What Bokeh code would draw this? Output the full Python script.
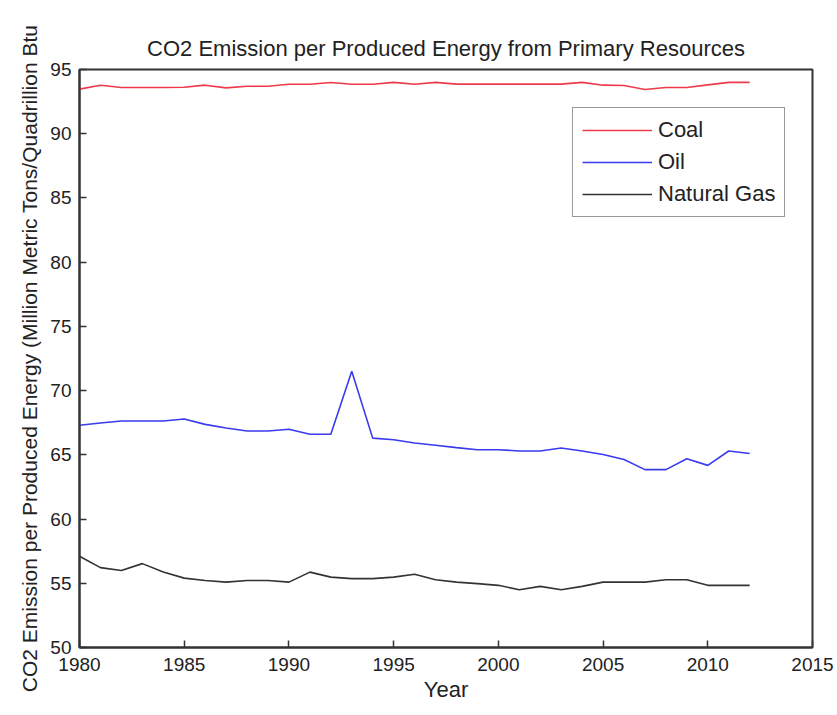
from bokeh.plotting import figure
from bokeh.models import Range1d, FixedTicker, Legend, LegendItem
from bokeh.embed import file_html
from bokeh.resources import INLINE

# CO2 emitted per unit of produced energy (million metric tons per quadrillion Btu)
years = list(range(1980, 2013))
coal = [93.47, 93.78, 93.60, 93.60, 93.60, 93.62, 93.78, 93.57, 93.70, 93.70,
        93.85, 93.85, 93.99, 93.85, 93.85, 94.00, 93.85, 94.00, 93.86, 93.86,
        93.86, 93.86, 93.86, 93.86, 94.00, 93.78, 93.75, 93.44, 93.60, 93.60,
        93.80, 94.00, 94.00]
oil = [67.30, 67.48, 67.63, 67.63, 67.63, 67.79, 67.37, 67.09, 66.86, 66.86,
       66.99, 66.60, 66.60, 71.50, 66.30, 66.18, 65.92, 65.74, 65.56, 65.40,
       65.40, 65.30, 65.30, 65.53, 65.30, 65.02, 64.63, 63.85, 63.85, 64.70,
       64.18, 65.30, 65.10]
natural_gas = [57.10, 56.22, 56.00, 56.53, 55.87, 55.40, 55.22, 55.09, 55.22, 55.22,
               55.09, 55.87, 55.48, 55.36, 55.36, 55.48, 55.70, 55.28, 55.09, 54.97,
               54.84, 54.50, 54.76, 54.50, 54.76, 55.09, 55.09, 55.09, 55.28, 55.28,
               54.84, 54.84, 54.84]

series_names = ["Coal", "Oil", "Natural Gas"]
series_colors = ["#ee3a4a", "#3a3aee", "#333333"]

x_ticks = [1980, 1985, 1990, 1995, 2000, 2005, 2010, 2015]
y_ticks = [50, 55, 60, 65, 70, 75, 80, 85, 90, 95]

FONT = "Liberation Sans"
TICK_FS = "19px"
TEXT_FS = "22px"

p = figure(width=837, height=715, output_backend="svg", toolbar_location=None,
           x_range=Range1d(1980, 2015), y_range=Range1d(50, 95),
           min_border_left=79, min_border_right=25, min_border_top=69,
           min_border_bottom=68,
           title="CO2 Emission per Produced Energy from Primary Resources")

p.title.align = "center"
p.title.text_font = FONT
p.title.text_font_size = TEXT_FS
p.title.text_font_style = "normal"
p.title.text_color = "#222222"
p.title.standoff = 18

p.xgrid.visible = False
p.ygrid.visible = False
p.outline_line_color = "#333333"
p.outline_line_width = 2
p.background_fill_color = "white"
p.border_fill_color = "white"

for ax in (p.xaxis[0], p.yaxis[0]):
    ax.axis_line_color = "#333333"
    ax.axis_line_width = 2
    ax.major_tick_in = 7
    ax.major_tick_out = 0
    ax.minor_tick_line_color = None
    ax.major_tick_line_color = "#333333"
    ax.major_tick_line_width = 1.5
    ax.major_label_text_font = FONT
    ax.major_label_text_font_size = TICK_FS
    ax.major_label_text_color = "#222222"
    ax.axis_label_text_font = FONT
    ax.axis_label_text_font_style = "normal"
    ax.axis_label_text_color = "#222222"

p.xaxis.axis_label_text_font_size = TEXT_FS
p.yaxis.axis_label_text_font_size = "21px"
p.xaxis.ticker = FixedTicker(ticks=x_ticks)
p.yaxis.ticker = FixedTicker(ticks=y_ticks)
p.xaxis.axis_label = "Year"
p.yaxis.axis_label = "CO2 Emission per Produced Energy (Million Metric Tons/Quadrillion Btu"
p.xaxis.major_label_standoff = 10
p.yaxis.major_label_standoff = 8
p.xaxis.axis_label_standoff = 3
p.yaxis.axis_label_standoff = 6

renderers = []
for name, vals, col in zip(series_names, [coal, oil, natural_gas], series_colors):
    r = p.line(years, vals, line_color=col, line_width=1.6)
    renderers.append(LegendItem(label=name, renderers=[r]))

legend = Legend(items=renderers, location=(493, 430))
legend.glyph_width = 70
legend.glyph_height = 20
legend.label_height = 20
legend.label_standoff = 6
legend.spacing = 6
legend.padding = 9
legend.margin = 0
legend.label_text_font = FONT
legend.label_text_font_size = TEXT_FS
legend.label_text_color = "#222222"
legend.border_line_color = "#333333"
legend.border_line_width = 1.5
legend.background_fill_alpha = 1
p.add_layout(legend, "center")

open("out.html", "w").write(file_html(p, INLINE))
